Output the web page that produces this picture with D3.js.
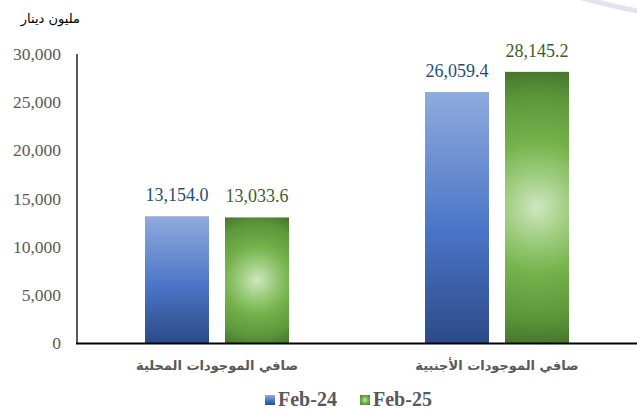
<!DOCTYPE html>
<html>
<head>
<meta charset="utf-8">
<script src="https://cdn.jsdelivr.net/npm/d3@7"></script>
<style>
  body { margin: 0; background: #fff; }
  svg { display: block; }
  .serif { font-family: "Liberation Serif", "Times New Roman", Times, "DejaVu Serif", serif; }
  .arabic { font-family: "DejaVu Sans", sans-serif; }
</style>
</head>
<body>
<div class="graphic"></div>
<script>
// chart data
const categories = ["صافي الموجودات المحلية", "صافي الموجودات الأجنبية"];
const seriesNames = ["Feb-24", "Feb-25"];
const feb24 = [13154.0, 26059.4];
const feb25 = [13033.6, 28145.2];
const yTicks = [0, 5000, 10000, 15000, 20000, 25000, 30000];
const unitLabel = "مليون دينار";

const W = 637, H = 411;

const svg = d3.select(".graphic")
  .append("svg")
  .attr("width", W)
  .attr("height", H);

const defs = svg.append("defs");

// blue linear gradient (Feb-24)
const blue = defs.append("linearGradient")
  .attr("id", "gBlue")
  .attr("x1", 0).attr("y1", 0).attr("x2", 0).attr("y2", 1);
blue.append("stop").attr("offset", "0%").attr("stop-color", "#90abdd");
blue.append("stop").attr("offset", "55%").attr("stop-color", "#4a75c7");
blue.append("stop").attr("offset", "100%").attr("stop-color", "#2c4a87");

// green radial stops (Feb-25)
const greenStops = [
  ["0%", "#cfe7c0"],
  ["22%", "#9fcd80"],
  ["45%", "#74b24b"],
  ["75%", "#5c973b"],
  ["100%", "#3f6a27"]
];
// cx, cy, r are in the local coords of the element using it
const addGreen = (id, cx, cy, r) => {
  const g = defs.append("radialGradient")
    .attr("id", id)
    .attr("gradientUnits", "userSpaceOnUse")
    .attr("cx", cx).attr("cy", cy).attr("r", r);
  greenStops.forEach(s => g.append("stop").attr("offset", s[0]).attr("stop-color", s[1]));
  return `url(#${id})`;
};

// decorative arc top right
svg.append("path")
  .attr("d", "M578,-3 Q612,6 642,12")
  .attr("fill", "none")
  .attr("stroke", "#e2e3ef")
  .attr("stroke-width", 5);

const x0 = d3.scaleBand()
  .domain(categories)
  .range([77, 637]);

const x1 = d3.scaleBand()
  .domain(seriesNames)
  .range([68, 212])
  .paddingInner(0.2);

const y = d3.scaleLinear()
  .domain([0, 30000])
  .range([343, 54]);

const rows = categories.map((c, i) => ({
  cat: c,
  vals: [
    { s: "Feb-24", v: feb24[i], i: i },
    { s: "Feb-25", v: feb25[i], i: i }
  ]
}));

const labelColors = { "Feb-24": "#1f4e79", "Feb-25": "#3b5e28" };

const barFill = d => {
  if (d.s === "Feb-24") return "url(#gBlue)";
  const h = y(0) - y(d.v);
  return addGreen("gGreen" + d.i, x1(d.s) + x1.bandwidth() / 2, y(d.v) + h / 2, h / 2 + 12);
};

// y tick labels
svg.append("g")
  .selectAll("text")
  .data(yTicks)
  .join("text")
    .attr("class", "serif")
    .attr("x", 61)
    .attr("y", d => y(d))
    .attr("dy", "0.35em")
    .attr("text-anchor", "end")
    .attr("font-size", 17.5)
    .attr("fill", "#595959")
    .text(d => d3.format(",")(d));

// unit label
svg.append("text")
  .attr("class", "arabic")
  .attr("x", 80)
  .attr("y", 23)
  .attr("text-anchor", "end")
  .attr("font-size", 13)
  .attr("fill", "#000")
  .text(unitLabel);

// bars
const groups = svg.selectAll("g.grp")
  .data(rows)
  .join("g")
    .attr("class", "grp")
    .attr("transform", d => `translate(${x0(d.cat)},0)`);

groups.selectAll("rect")
  .data(d => d.vals)
  .join("rect")
    .attr("x", d => x1(d.s))
    .attr("y", d => y(d.v))
    .attr("width", x1.bandwidth())
    .attr("height", d => y(0) - y(d.v))
    .attr("fill", d => barFill(d));

groups.selectAll("text.val")
  .data(d => d.vals)
  .join("text")
    .attr("class", "val serif")
    .attr("x", d => x1(d.s) + x1.bandwidth() / 2)
    .attr("y", d => y(d.v) - 15)
    .attr("text-anchor", "middle")
    .attr("font-size", 18)
    .attr("fill", d => labelColors[d.s])
    .text(d => d3.format(",.1f")(d.v));

// axes lines
svg.append("line")
  .attr("x1", 77).attr("x2", 77)
  .attr("y1", 54).attr("y2", 344)
  .attr("stroke", "#000")
  .attr("stroke-width", 1.3);

svg.append("line")
  .attr("x1", 76).attr("x2", 637)
  .attr("y1", 343.5).attr("y2", 343.5)
  .attr("stroke", "#000")
  .attr("stroke-width", 2);

// category labels
svg.append("g")
  .selectAll("text")
  .data(categories)
  .join("text")
    .attr("class", "arabic")
    .attr("x", d => x0(d) + x0.bandwidth() / 2)
    .attr("y", 370)
    .attr("text-anchor", "middle")
    .attr("font-weight", "bold")
    .attr("font-size", 13)
    .attr("fill", "#595959")
    .text(d => d);

// legend
const legendX = [265, 360];
const legendFill = { "Feb-24": "url(#gBlue)", "Feb-25": addGreen("gGreenLeg", 5, 5, 7) };
const legend = svg.append("g")
  .selectAll("g")
  .data(seriesNames)
  .join("g")
    .attr("transform", (d, i) => `translate(${legendX[i]},395)`);

legend.append("rect")
  .attr("width", 10)
  .attr("height", 10)
  .attr("fill", d => legendFill[d]);

legend.append("text")
  .attr("class", "serif")
  .attr("x", 13)
  .attr("y", 11)
  .attr("font-weight", "bold")
  .attr("font-size", 20)
  .attr("fill", "#595959")
  .text(d => d);
</script>
</body>
</html>
